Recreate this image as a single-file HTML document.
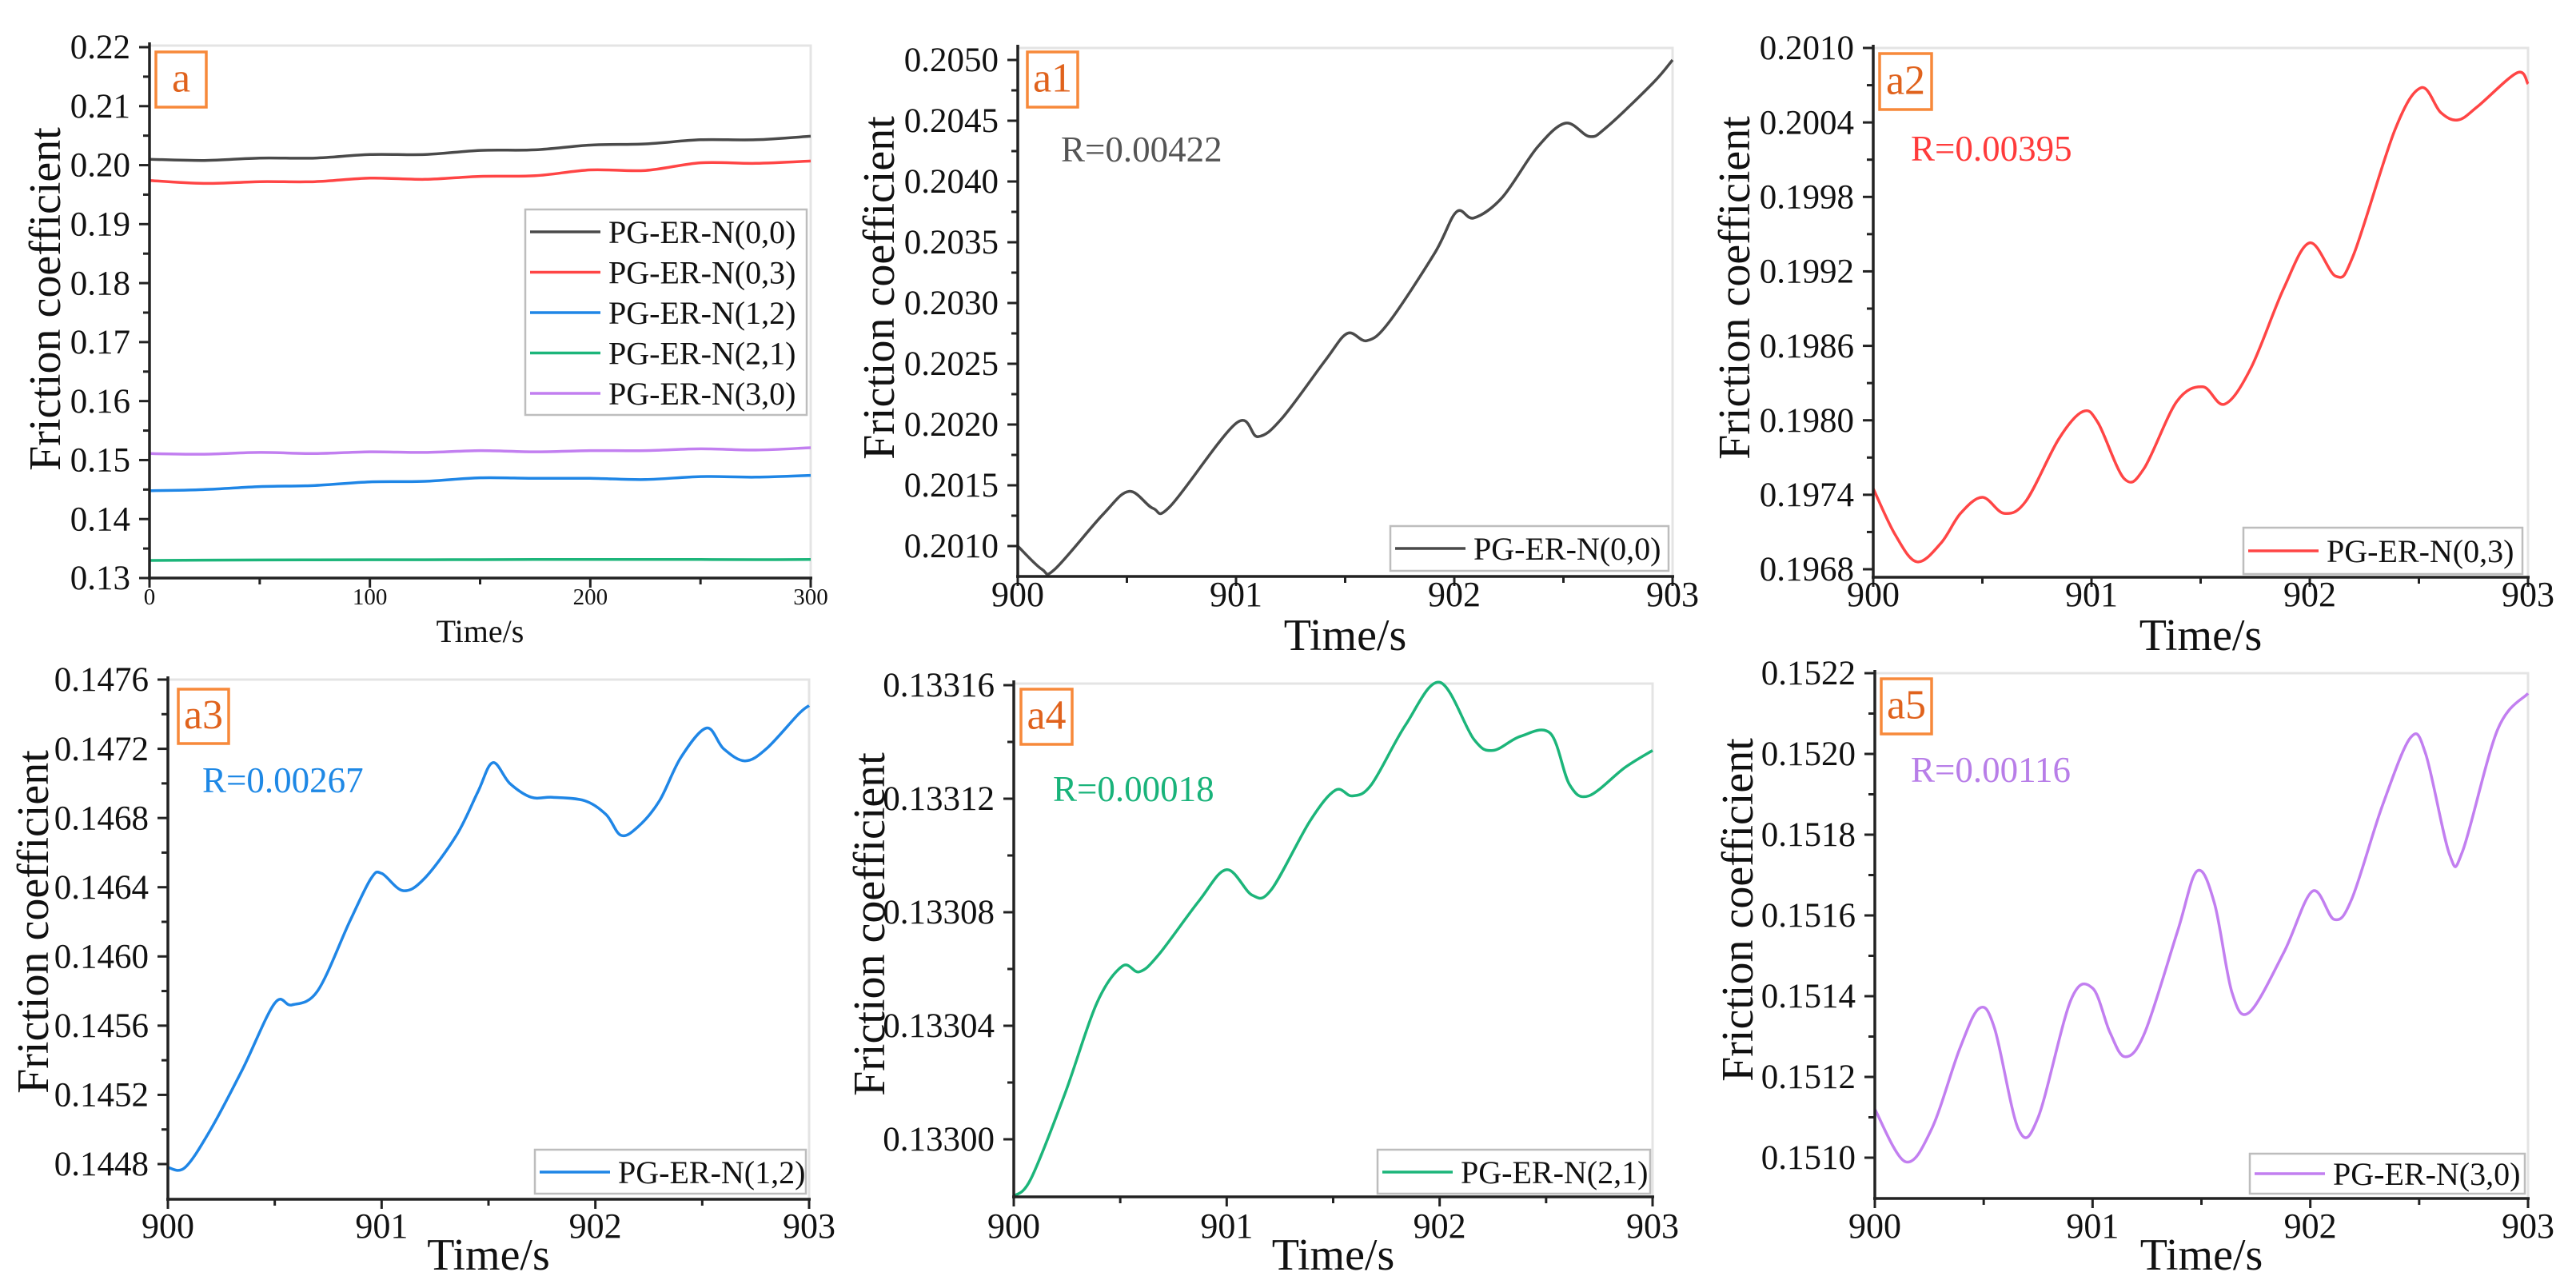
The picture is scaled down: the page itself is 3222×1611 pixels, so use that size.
<!DOCTYPE html>
<html><head><meta charset="utf-8"><style>
html,body{margin:0;padding:0;background:#fff;}
svg{display:block;font-family:"Liberation Serif",serif;}
</style></head><body>
<svg id="fig" width="3222" height="1611" viewBox="0 0 3222 1611" xmlns="http://www.w3.org/2000/svg"></svg>
<script>
// ---------- data ----------
const overviewTimes = [0,25,50,75,100,125,150,175,200,225,250,275,300];
const overviewBlack = [0.2010,0.2008,0.2012,0.2012,0.2018,0.2018,0.2025,0.2026,0.2034,0.2036,0.2043,0.2043,0.2049];
const overviewRed = [0.1974,0.1969,0.1972,0.1972,0.1978,0.1976,0.1981,0.1982,0.1992,0.1991,0.2004,0.2003,0.2007];
const overviewBlue = [0.1448,0.1450,0.1455,0.1457,0.1463,0.1464,0.1470,0.1469,0.1469,0.1467,0.1472,0.1471,0.1474];
const overviewGreen = [0.13298,0.13304,0.13307,0.13309,0.13310,0.13311,0.13312,0.13314,0.13316,0.13314,0.13314,0.13312,0.13314];
const overviewPurple = [0.1511,0.1510,0.1513,0.1511,0.1514,0.1513,0.1516,0.1514,0.1516,0.1516,0.1519,0.1517,0.1521];

const a1Times = [900,900.11,900.17,900.39,900.51,900.62,900.7,901.0,901.1,901.21,901.41,901.51,901.6,901.7,901.91,902.01,902.09,902.22,902.38,902.51,902.62,902.7,902.91,903];
const a1Values = [0.2010,0.20081,0.20081,0.20126,0.20145,0.20131,0.20133,0.20201,0.20190,0.20205,0.20253,0.20275,0.20269,0.20284,0.20341,0.20375,0.20370,0.20387,0.20428,0.20448,0.20437,0.20445,0.20481,0.20500];

const a2Times = [900,900.1,900.2,900.31,900.4,900.5,900.6,900.7,900.85,900.96,901.03,901.15,901.24,901.39,901.51,901.61,901.73,901.88,902.0,902.12,902.2,902.39,902.51,902.6,902.68,902.77,902.95,903];
const a2Values = [0.19745,0.19708,0.19686,0.19701,0.19725,0.19738,0.19725,0.19735,0.19785,0.19807,0.19798,0.19753,0.19761,0.19815,0.19827,0.19813,0.19842,0.19906,0.19943,0.19916,0.19933,0.20034,0.20068,0.20048,0.20042,0.20053,0.20080,0.20071];

const a3Times = [900,900.08,900.2,900.35,900.5,900.58,900.7,900.85,900.95,901.0,901.1,901.2,901.35,901.45,901.52,901.6,901.7,901.8,901.95,902.05,902.12,902.2,902.3,902.4,902.52,902.6,902.7,902.8,902.95,903];
const a3Values = [0.14478,0.14478,0.1450,0.14535,0.14573,0.14572,0.1458,0.1462,0.14645,0.14648,0.14638,0.14645,0.1467,0.14695,0.14712,0.14700,0.14692,0.14692,0.14690,0.14682,0.14670,0.14675,0.1469,0.14715,0.14732,0.1472,0.14713,0.1472,0.1474,0.14745];

const a4Times = [900,900.08,900.24,900.39,900.51,900.59,900.68,900.87,901.0,901.12,901.21,901.39,901.51,901.59,901.68,901.84,902.0,902.16,902.25,902.38,902.52,902.61,902.7,902.87,903];
const a4Values = [0.132980,0.132986,0.133016,0.133048,0.133061,0.133059,0.133065,0.133084,0.133095,0.133086,0.133088,0.133112,0.133123,0.133121,0.133125,0.133146,0.133161,0.133141,0.133137,0.133142,0.133143,0.133125,0.133121,0.133131,0.133137];

const a5Times = [900,900.14,900.26,900.39,900.48,900.55,900.66,900.75,900.9,901.0,901.08,901.15,901.24,901.39,901.48,901.56,901.64,901.72,901.88,902.01,902.11,902.19,902.33,902.46,902.53,902.64,902.7,902.86,903];
const a5Values = [0.15112,0.15099,0.15107,0.15127,0.15137,0.15132,0.15107,0.15110,0.15139,0.15142,0.15131,0.15125,0.15131,0.15156,0.15171,0.15163,0.15141,0.15136,0.15151,0.15166,0.15159,0.15164,0.15187,0.15204,0.15200,0.15175,0.15176,0.15206,0.15215];

const overviewYTicks = [0.13,0.14,0.15,0.16,0.17,0.18,0.19,0.20,0.21,0.22];
const overviewXTicks = [0,100,200,300];
const zoomXTicks = [900,901,902,903];
const a1YTicks = [0.2010,0.2015,0.2020,0.2025,0.2030,0.2035,0.2040,0.2045,0.2050];
const a2YTicks = [0.1968,0.1974,0.1980,0.1986,0.1992,0.1998,0.2004,0.2010];
const a3YTicks = [0.1448,0.1452,0.1456,0.1460,0.1464,0.1468,0.1472,0.1476];
const a4YTicks = [0.13300,0.13304,0.13308,0.13312,0.13316];
const a5YTicks = [0.1510,0.1512,0.1514,0.1516,0.1518,0.1520,0.1522];
const seriesNames = ["PG-ER-N(0,0)","PG-ER-N(0,3)","PG-ER-N(1,2)","PG-ER-N(2,1)","PG-ER-N(3,0)"];

// ---------- drawing ----------
const NS = "http://www.w3.org/2000/svg";
const svg = document.getElementById('fig');
const COLORS = ["#4a4a4a","#ff4545","#1f86e6","#1cb57a","#c27ff0"];

function mk(tag, attrs, parent){
  const e = document.createElementNS(NS, tag);
  for (const k in attrs) e.setAttribute(k, attrs[k]);
  (parent||svg).appendChild(e);
  return e;
}
function txt(str, x, y, size, anchor, fill, sx, parent){
  const t = mk('text', {x:0, y:0, 'font-size':size, 'text-anchor':anchor||'middle', fill:fill||'#111',
    transform:'translate('+x+','+y+') scale('+(sx||1)+',1)'}, parent);
  t.textContent = str;
  return t;
}
function smoothPath(pts){
  let d = 'M'+pts[0][0].toFixed(1)+','+pts[0][1].toFixed(1);
  for (let i=0;i<pts.length-1;i++){
    const p0=pts[i-1]||pts[i], p1=pts[i], p2=pts[i+1], p3=pts[i+2]||p2;
    const c1=[p1[0]+(p2[0]-p0[0])/6, p1[1]+(p2[1]-p0[1])/6];
    const c2=[p2[0]-(p3[0]-p1[0])/6, p2[1]-(p3[1]-p1[1])/6];
    d += ' C'+c1[0].toFixed(1)+','+c1[1].toFixed(1)+' '+c2[0].toFixed(1)+','+c2[1].toFixed(1)+' '+p2[0].toFixed(1)+','+p2[1].toFixed(1);
  }
  return d;
}

function panel(c){
  const g = mk('g', {});
  
  
  const xS = v => c.x0 + (v - c.xMin)/(c.xMax - c.xMin)*(c.x1 - c.x0);
  const yS = v => c.yTopPx + (c.yTopV - v)/(c.yTopV - c.yBotV)*(c.yBotPx - c.yTopPx);

  const fr = mk('path', {d:'M'+c.x0+','+c.frameTop+' H'+c.x1+' V'+c.axisY, fill:'none', stroke:'#e4e4e4', 'stroke-width':3}, g);
  
  

  c.series.forEach((s)=>{
    const pts = s.t.map((t,i)=>[xS(t), yS(s.v[i])]);
    const p = mk('path', {d:smoothPath(pts), fill:'none', stroke:s.color, 'stroke-width':c.lw||3.5, 'stroke-linejoin':'round'}, g);
    
    
  });

  const ax = mk('g', {}, g);
  
  
  mk('line', {x1:c.x0, y1:c.frameTop-4, x2:c.x0, y2:c.axisY+2, stroke:'#222', 'stroke-width':3.5}, ax);
  mk('line', {x1:c.x0-2, y1:c.axisY, x2:c.x1+2, y2:c.axisY, stroke:'#222', 'stroke-width':3.5}, ax);

  c.yTicks.forEach((v,i)=>{
    const y = yS(v);
    mk('line', {x1:c.x0-13, y1:y, x2:c.x0, y2:y, stroke:'#222', 'stroke-width':3}, ax);
    if (i < c.yTicks.length-1){
      const ym = yS((v + c.yTicks[i+1])/2);
      mk('line', {x1:c.x0-8, y1:ym, x2:c.x0, y2:ym, stroke:'#222', 'stroke-width':3}, ax);
    }
    const t = txt(v.toFixed(c.yDec), c.x0-24, y + c.yFont*0.33, c.yFont, 'end', '#111', c.ySx, ax);
    
    
  });
  c.xTicks.forEach((v,i)=>{
    const x = xS(v);
    mk('line', {x1:x, y1:c.axisY, x2:x, y2:c.axisY+12, stroke:'#222', 'stroke-width':3}, ax);
    if (i < c.xTicks.length-1){
      const xm = xS((v + c.xTicks[i+1])/2);
      mk('line', {x1:xm, y1:c.axisY, x2:xm, y2:c.axisY+8, stroke:'#222', 'stroke-width':3}, ax);
    }
    const t = txt(String(v), x, c.xLabBase, c.xFont, 'middle', '#111', 1, ax);
    
    
  });
  const xt = txt('Time/s', (c.x0+c.x1)/2, c.xTitleBase, c.xTitleFont, 'middle', '#111', 1, g);
  
  
  const yt = mk('text', {x:0, y:0, 'font-size':56, 'text-anchor':'middle', fill:'#111',
     transform:'translate('+c.yTitleX+','+c.yTitleY+') rotate(-90)'}, g);
  yt.textContent = 'Friction coefficient';
  
  

  const lb = mk('g', {}, g);
  
  
  mk('rect', {x:c.lab[0], y:c.lab[1], width:c.lab[2], height:c.lab[3], fill:'#fff', stroke:'#f7893a', 'stroke-width':3.5}, lb);
  txt(c.labText, c.lab[0]+c.lab[2]/2, c.lab[1]+c.lab[3]*0.72, 52, 'middle', '#e0621c', 1, lb);

  if (c.rText){
    const r = txt(c.rText, c.rPos[0], c.rPos[1], 45, 'start', c.rColor, 1, g);
    
    
  }

  const lg = mk('g', {}, g);
  
  
  mk('rect', {x:c.leg[0], y:c.leg[1], width:c.leg[2], height:c.leg[3], fill:'#fff', stroke:'#bdbdbd', 'stroke-width':2.5}, lg);
  c.legItems.forEach((it,i)=>{
    const ey = c.legY0 + i*c.legStep;
    const le = mk('g', {}, lg);
    
    
    mk('line', {x1:c.leg[0]+6, y1:ey, x2:c.leg[0]+94, y2:ey, stroke:it.color, 'stroke-width':3.5}, le);
    txt(it.label, c.leg[0]+104, ey+14, 40, 'start', '#111', 1, le);
  });
}

panel({name:'panel-a', x0:187, x1:1014, xMin:0, xMax:300, yTopV:0.22, yBotV:0.13, yTopPx:59, yBotPx:723, axisY:723, frameTop:57,
  yTicks:overviewYTicks, yDec:2, yFont:43, ySx:1, xTicks:overviewXTicks, xFont:29, xLabBase:756, xTitleBase:803, xTitleFont:40,
  yTitleX:75, yTitleY:374, lab:[195,65,63,69], labText:'a', lw:3.5,
  leg:[657,262,352,257], legY0:290, legStep:50.5,
  legItems:seriesNames.map((n,i)=>({label:n, color:COLORS[i]})),
  series:[
    {t:overviewTimes, v:overviewBlack, color:COLORS[0]},
    {t:overviewTimes, v:overviewRed, color:COLORS[1]},
    {t:overviewTimes, v:overviewBlue, color:COLORS[2]},
    {t:overviewTimes, v:overviewGreen, color:COLORS[3]},
    {t:overviewTimes, v:overviewPurple, color:COLORS[4]}]});

const zoomCommon = {xMin:900, xMax:903, xTicks:zoomXTicks, xFont:44, xTitleFont:56, yFont:43, ySx:1};

panel(Object.assign({}, zoomCommon, {name:'panel-a1', x0:1273, x1:2092, yTopV:0.2050, yBotV:0.2010, yTopPx:75, yBotPx:683, axisY:721, frameTop:60,
  yTicks:a1YTicks, yDec:4, xLabBase:758, xTitleBase:813, yTitleX:1118, yTitleY:360, lab:[1285,65,63,69], labText:'a1',
  rText:'R=0.00422', rPos:[1327,202], rColor:'#555',
  leg:[1739,658,348,56], legY0:686, legStep:0, legItems:[{label:seriesNames[0], color:COLORS[0]}],
  series:[{t:a1Times, v:a1Values, color:COLORS[0]}]}));

panel(Object.assign({}, zoomCommon, {name:'panel-a2', x0:2343, x1:3162, yTopV:0.2010, yBotV:0.1968, yTopPx:60, yBotPx:712, axisY:722, frameTop:60,
  yTicks:a2YTicks, yDec:4, xLabBase:758, xTitleBase:813, yTitleX:2188, yTitleY:360, lab:[2351,67,65,70], labText:'a2',
  rText:'R=0.00395', rPos:[2390,201], rColor:'#ff3b3b',
  leg:[2806,660,349,58], legY0:689, legStep:0, legItems:[{label:seriesNames[1], color:COLORS[1]}],
  series:[{t:a2Times, v:a2Values, color:COLORS[1]}]}));

panel(Object.assign({}, zoomCommon, {name:'panel-a3', x0:210, x1:1012, yTopV:0.1476, yBotV:0.1448, yTopPx:850, yBotPx:1456, axisY:1500, frameTop:850,
  yTicks:a3YTicks, yDec:4, xLabBase:1548, xTitleBase:1588, yTitleX:60, yTitleY:1153, lab:[223,862,63,68], labText:'a3',
  rText:'R=0.00267', rPos:[253,991], rColor:'#1e88e5',
  leg:[669,1438,339,55], legY0:1466, legStep:0, legItems:[{label:seriesNames[2], color:COLORS[2]}],
  series:[{t:a3Times, v:a3Values, color:COLORS[2]}]}));

panel(Object.assign({}, zoomCommon, {name:'panel-a4', x0:1268, x1:2067, yTopV:0.13316, yBotV:0.13300, yTopPx:857, yBotPx:1425, axisY:1497, frameTop:855,
  yTicks:a4YTicks, yDec:5, xLabBase:1548, xTitleBase:1588, yTitleX:1106, yTitleY:1156, lab:[1277,862,64,69], labText:'a4',
  rText:'R=0.00018', rPos:[1317,1002], rColor:'#19b37a',
  leg:[1723,1438,341,55], legY0:1466, legStep:0, legItems:[{label:seriesNames[3], color:COLORS[3]}],
  series:[{t:a4Times, v:a4Values, color:COLORS[3]}]}));

panel(Object.assign({}, zoomCommon, {name:'panel-a5', x0:2345, x1:3162, yTopV:0.1522, yBotV:0.1510, yTopPx:842, yBotPx:1448, axisY:1499, frameTop:842,
  yTicks:a5YTicks, yDec:4, xLabBase:1548, xTitleBase:1588, yTitleX:2192, yTitleY:1138, lab:[2353,849,63,69], labText:'a5',
  rText:'R=0.00116', rPos:[2390,978], rColor:'#b87ee8',
  leg:[2814,1443,344,50], legY0:1468, legStep:0, legItems:[{label:seriesNames[4], color:COLORS[4]}],
  series:[{t:a5Times, v:a5Values, color:COLORS[4]}]}));
</script>
</body></html>
